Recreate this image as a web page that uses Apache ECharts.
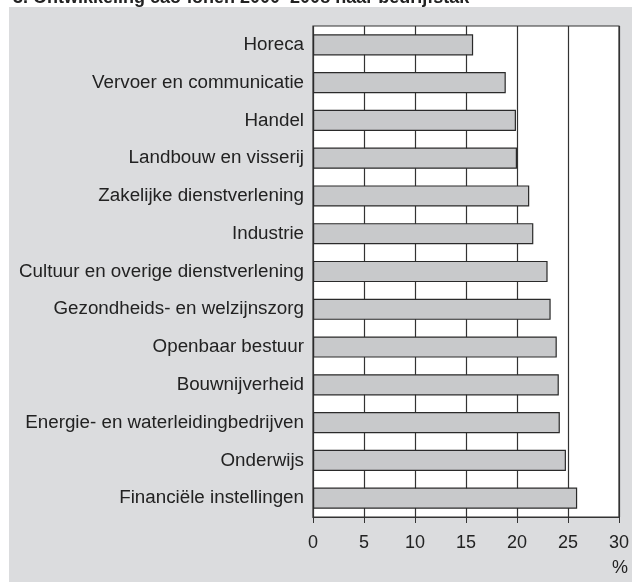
<!DOCTYPE html>
<html>
<head>
<meta charset="utf-8">
<script src="https://cdn.jsdelivr.net/npm/echarts@6/dist/echarts.min.js"></script>
<style>
  html, body { margin: 0; padding: 0; background: #fff; }
  #main { width: 632px; height: 582px; }
</style>
</head>
<body>
<div id="main"></div>
<script>
  // bedrijfstakken, van boven naar beneden
  const categories = [
    'Horeca',
    'Vervoer en communicatie',
    'Handel',
    'Landbouw en visserij',
    'Zakelijke dienstverlening',
    'Industrie',
    'Cultuur en overige dienstverlening',
    'Gezondheids- en welzijnszorg',
    'Openbaar bestuur',
    'Bouwnijverheid',
    'Energie- en waterleidingbedrijven',
    'Onderwijs',
    'Financiële instellingen'
  ]
  // ontwikkeling cao-lonen 2000-2008, %
  const values = [15.7, 18.9, 19.9, 20.0, 21.2, 21.6, 23.0, 23.3, 23.9, 24.1, 24.2, 24.8, 25.9]
  const xTicks = [0, 5, 10, 15, 20, 25, 30]

  const myChart = echarts.init(document.getElementById('main'))

  const option = {
    backgroundColor: '#fff',
    animation: false,
    title: {
      text: '3. Ontwikkeling cao-lonen 2000\u20132008 naar bedrijfstak',
      left: 8,
      top: -16,
      textStyle: { fontFamily: 'Liberation Sans', fontSize: 18, fontWeight: 'bold', color: '#222' }
    },
    graphic: [
      // grijs paneel achter de grafiek
      {
        type: 'rect', left: 9, top: 7, z: -10,
        shape: { width: 623, height: 575 },
        style: { fill: '#dbdcde' }
      },
      {
        type: 'text', right: 4, top: 559,
        style: { text: '%', fontFamily: 'Liberation Sans', fontSize: 18, fill: '#222' }
      }
    ],
    grid: {
      left: 313, right: 12, top: 26, bottom: 65,
      show: true, backgroundColor: '#fff', borderColor: '#333', borderWidth: 1.2
    },
    xAxis: {
      type: 'value',
      min: 0, max: 30, interval: 5,
      axisLine: { show: true, lineStyle: { color: '#333', width: 1.2 } },
      axisTick: { show: true, length: 6, lineStyle: { color: '#333' } },
      axisLabel: {
        margin: 17, fontFamily: 'Liberation Sans', fontSize: 18, color: '#222',
        formatter: v => (xTicks.indexOf(v) >= 0 ? String(v) : '')
      },
      splitLine: { show: true, lineStyle: { color: '#333', width: 1.2 } }
    },
    yAxis: {
      type: 'category',
      inverse: true,
      data: categories,
      axisLine: { show: false },
      axisTick: { show: false },
      axisLabel: { margin: 9, fontFamily: 'Liberation Sans', fontSize: 18.8, color: '#222' }
    },
    series: [{
      type: 'bar',
      data: values,
      barWidth: '56%',
      itemStyle: { color: '#c8c9cb', borderColor: '#2a2a2a', borderWidth: 1.2 }
    }]
  }

  myChart.setOption(option)
</script>
</body>
</html>
